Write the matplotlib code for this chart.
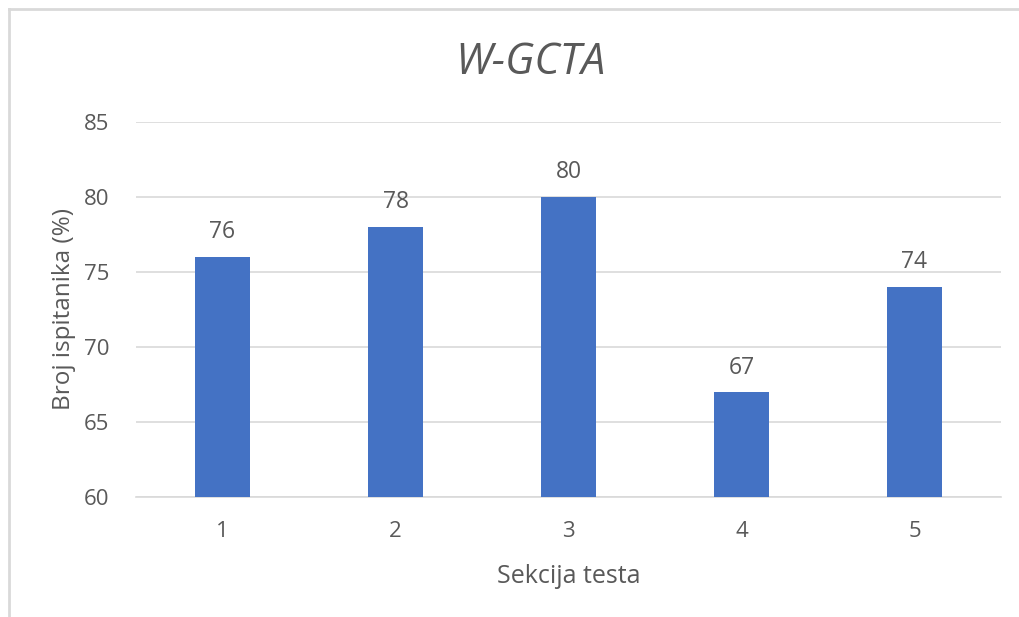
import matplotlib
matplotlib.use("Agg")
import matplotlib.pyplot as plt
from matplotlib.lines import Line2D

categories = ["1", "2", "3", "4", "5"]
values = [76, 78, 80, 67, 74]
yticks = [60, 65, 70, 75, 80, 85]

plt.rcParams['font.family'] = ['Open Sans', 'DejaVu Sans']
txt = '#595959'

fig = plt.figure(figsize=(10.19, 6.17), dpi=100)
bx, by = 8.5/1019, 1 - 8.5/617
fig.lines.append(Line2D([bx, 1.5], [by, by], transform=fig.transFigure, color='#d9d9d9', linewidth=2))
fig.lines.append(Line2D([bx, bx], [-0.5, by], transform=fig.transFigure, color='#d9d9d9', linewidth=2))
ax = fig.add_axes([136/1019, 1 - 497/617, 865/1019, 375/617])
x = list(range(len(categories)))
ax.bar(x, values, width=0.315, color='#4472c4', zorder=3)
ax.set_xlim(-0.5, len(categories) - 0.5)
ax.set_ylim(60, 85)
ax.set_yticks(yticks)
ax.set_xticks(x)
ax.set_xticklabels(categories)
ax.grid(axis='y', color='#d9d9d9', linewidth=1.2, zorder=0)
for s in ['top', 'right', 'left']:
    ax.spines[s].set_visible(False)
ax.spines['bottom'].set_color('#d9d9d9')
ax.spines['bottom'].set_linewidth(1.2)
ax.tick_params(axis='both', length=0, labelsize=16, labelcolor=txt)
ax.tick_params(axis='x', pad=17)
ax.tick_params(axis='y', pad=19)
for xi, v in zip(x, values):
    ax.annotate(str(v), (xi, v), xytext=(0, 9), textcoords='offset points',
                ha='center', va='bottom', fontsize=16.5, color=txt)
ax.set_xlabel('Sekcija testa', fontsize=18, color=txt, labelpad=16)
ax.set_ylabel('Broj ispitanika (%)', fontsize=17.5, color=txt, labelpad=6)
fig.text(530/1019, 1 - 63/617, 'W-GCTA', ha='center', va='center', fontsize=31,
         style='italic', color=txt)
fig.savefig('out.png', dpi=100)
